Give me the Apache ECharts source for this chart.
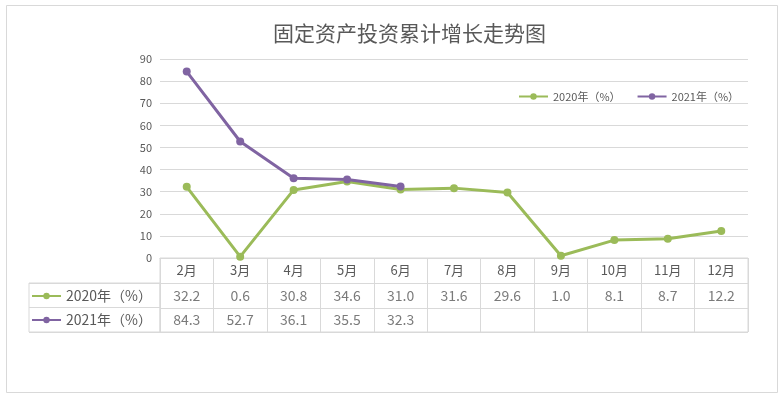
<!DOCTYPE html>
<html><head><meta charset="utf-8">
<script src="https://cdn.jsdelivr.net/npm/echarts@6/dist/echarts.min.js"></script>
<style>html,body{margin:0;padding:0;background:#fff}#c{width:781px;height:395px}</style>
</head><body><div id="c"></div>
<script>
const titleText = '固定资产投资累计增长走势图';
const categories = ['2月','3月','4月','5月','6月','7月','8月','9月','10月','11月','12月'];
const name2020 = '2020年（%）';
const name2021 = '2021年（%）';
const values2020 = [32.2, 0.6, 30.8, 34.6, 31.0, 31.6, 29.6, 1.0, 8.1, 8.7, 12.2];
const values2021 = [84.3, 52.7, 36.1, 35.5, 32.3];
const yMin = 0, yMax = 90, yStep = 10;

const FONT = '"Noto Sans CJK SC", "Microsoft YaHei", sans-serif';
const TXT = '#595959';
const GRIDC = '#d9d9d9';
const GREEN = '#9bbb59';
const PURPLE = '#8064a2';

const chart = echarts.init(document.getElementById('c'));
const tableRow = (vals, rowPos) => vals.map((v, i) => [i, rowPos, v]);

chart.setOption({
  animation: false,
  backgroundColor: '#fff',
  textStyle: { fontFamily: FONT },
  title: {
    text: titleText, left: 268, top: 18,
    textStyle: { fontFamily: FONT, fontSize: 21, fontWeight: 'normal', color: TXT }
  },
  graphic: [{
    type: 'rect', left: 4, top: 3, shape: { width: 771, height: 387 },
    style: { fill: 'none', stroke: GRIDC, lineWidth: 1 }, silent: true, z: -1
  }],
  legend: [{
    data: [name2020, name2021], left: 513, top: 86, itemWidth: 29, itemHeight: 8, itemGap: 16,
    textStyle: { fontFamily: FONT, fontSize: 11, color: TXT }
  }, {
    data: [name2020, name2021], orient: 'vertical', left: 26, top: 283, itemWidth: 29, itemHeight: 8, itemGap: 8,
    textStyle: { fontFamily: FONT, fontSize: 14, color: TXT, lineHeight: 16 }
  }],
  grid: [
    { left: 160, right: 33, top: 59, bottom: 137 },
    { left: 160, right: 33, top: 258, height: 74, show: true, borderColor: GRIDC, borderWidth: 1 },
    { left: 29, width: 131, top: 283, height: 49, show: true, borderColor: GRIDC, borderWidth: 1 }
  ],
  xAxis: [{
    gridIndex: 0, type: 'category', data: categories, boundaryGap: true,
    axisLine: { show: true, lineStyle: { color: GRIDC } }, axisTick: { show: false },
    axisLabel: { color: TXT, fontSize: 13, margin: 6, fontFamily: FONT }
  }, {
    gridIndex: 1, type: 'category', data: categories, boundaryGap: true,
    axisLine: { show: false }, axisTick: { show: false }, axisLabel: { show: false },
    splitLine: { show: true, lineStyle: { color: GRIDC } }
  }, {
    gridIndex: 2, type: 'value', min: 0, max: 1, show: false
  }],
  yAxis: [{
    gridIndex: 0, type: 'value', min: yMin, max: yMax, interval: yStep,
    axisLine: { show: false }, axisTick: { show: false },
    axisLabel: { color: TXT, fontSize: 11, margin: 8, fontFamily: FONT },
    splitLine: { lineStyle: { color: GRIDC } }
  }, {
    gridIndex: 1, type: 'value', min: 0, max: 74, interval: 25, inverse: true,
    axisLine: { show: false }, axisTick: { show: false }, axisLabel: { show: false },
    splitLine: { show: true, lineStyle: { color: GRIDC } }
  }, {
    gridIndex: 2, type: 'value', min: 0, max: 2, interval: 1,
    axisLine: { show: false }, axisTick: { show: false }, axisLabel: { show: false },
    splitLine: { show: true, lineStyle: { color: GRIDC } }
  }],
  series: [{
    name: name2020, type: 'line', data: values2020, xAxisIndex: 0, yAxisIndex: 0,
    symbol: 'circle', symbolSize: 8, color: GREEN,
    lineStyle: { width: 3, color: GREEN }, itemStyle: { color: GREEN }
  }, {
    name: name2021, type: 'line', data: values2021, xAxisIndex: 0, yAxisIndex: 0,
    symbol: 'circle', symbolSize: 8, color: PURPLE,
    lineStyle: { width: 3, color: PURPLE }, itemStyle: { color: PURPLE }
  }, {
    name: 'table2020', type: 'scatter', xAxisIndex: 1, yAxisIndex: 1,
    data: tableRow(values2020, 37.5), symbolSize: 2, itemStyle: { color: 'rgba(0,0,0,0)' }, silent: true,
    label: { show: true, position: 'inside', color: TXT, fontSize: 14, fontFamily: FONT,
      formatter: p => p.value[2].toFixed(1) }
  }, {
    name: 'table2021', type: 'scatter', xAxisIndex: 1, yAxisIndex: 1,
    data: tableRow(values2021, 62), symbolSize: 2, itemStyle: { color: 'rgba(0,0,0,0)' }, silent: true,
    label: { show: true, position: 'inside', color: TXT, fontSize: 14, fontFamily: FONT,
      formatter: p => p.value[2].toFixed(1) }
  }]
});
</script>
</body></html>
